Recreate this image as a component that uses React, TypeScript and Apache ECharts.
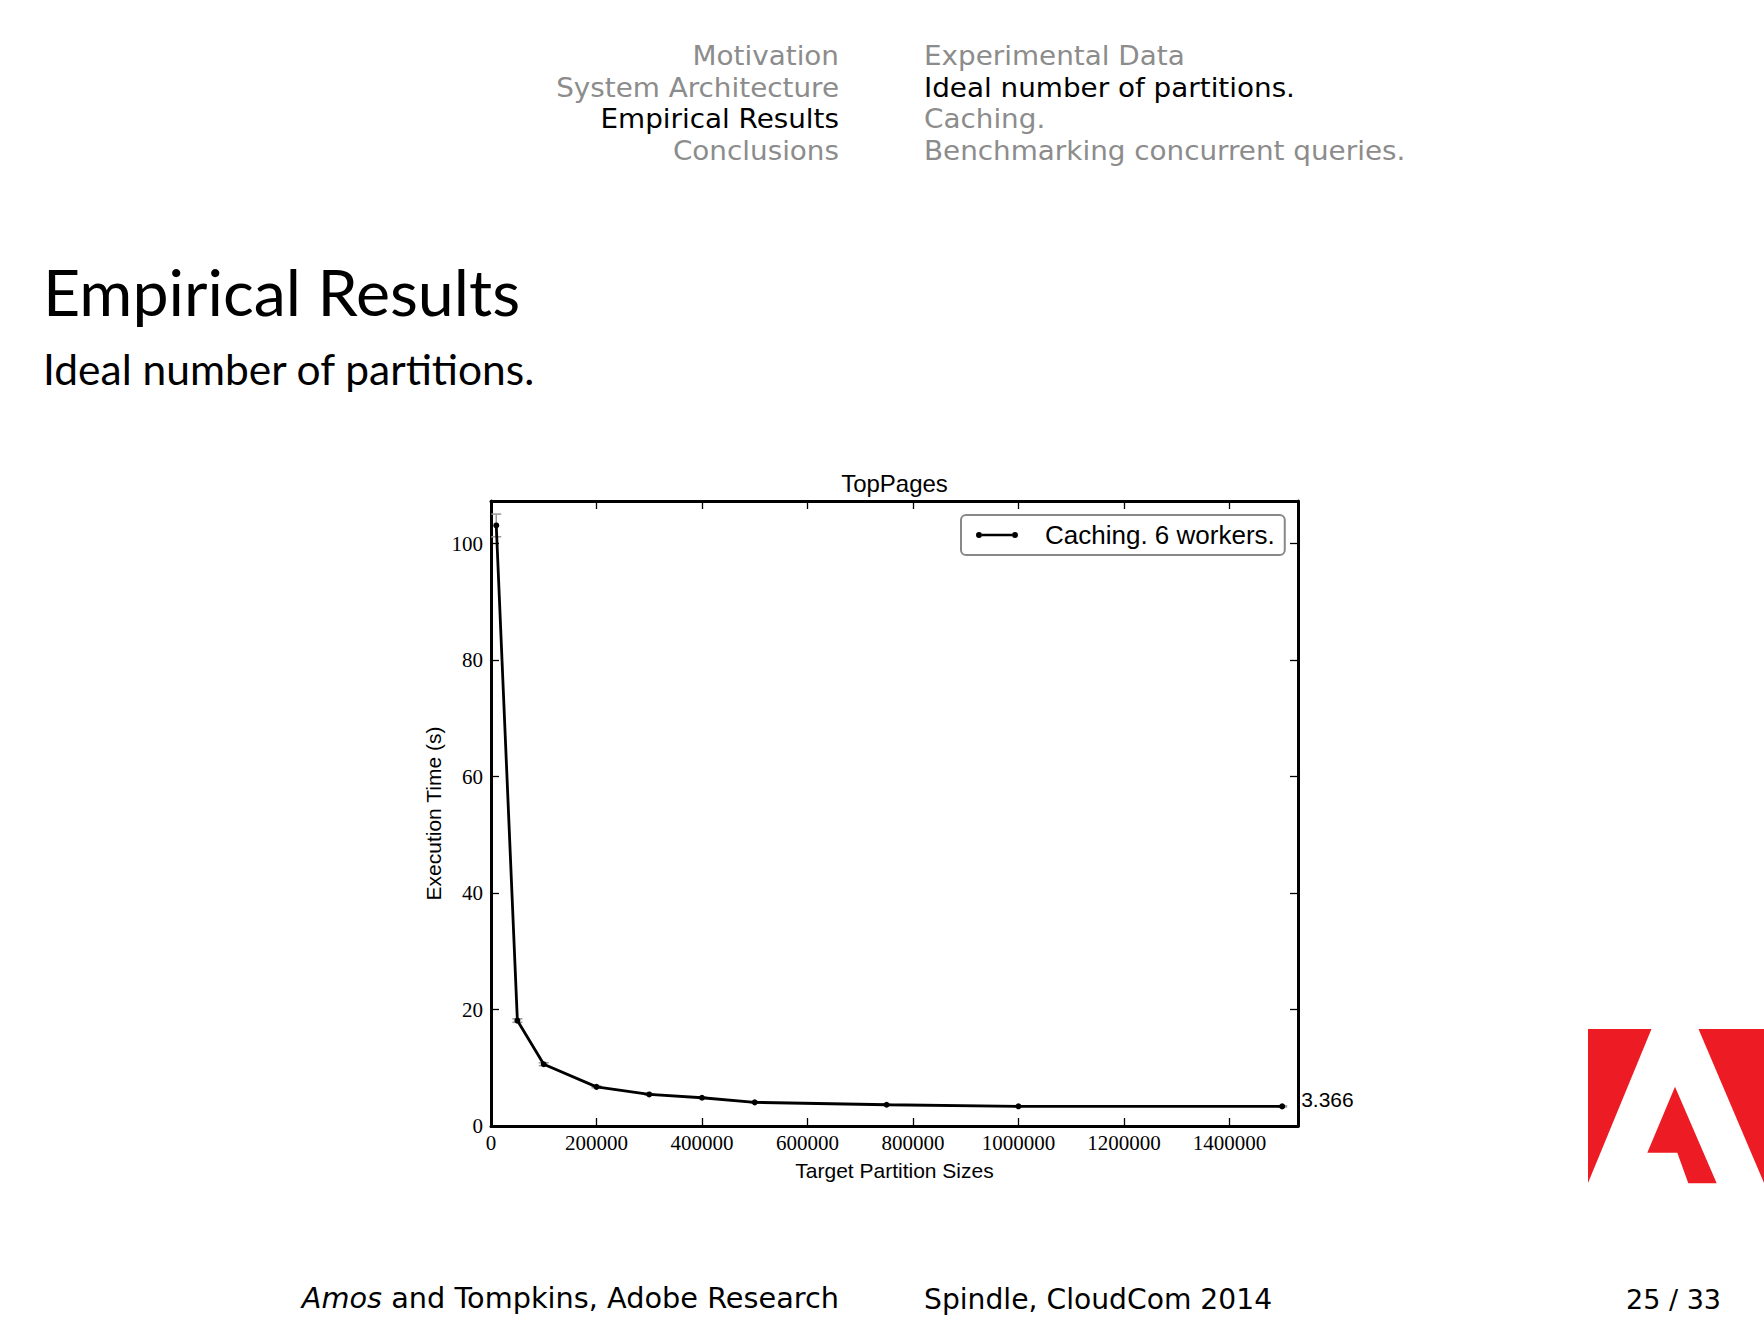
import React, { useEffect, useRef } from "react";
import * as echarts from "echarts";

// ---- data ----
const partitionSizes = [10000, 50000, 100000, 200000, 300000, 400000, 500000, 750000, 1000000, 1500000];
const execTimes = [103.1, 18.1, 10.6, 6.72, 5.42, 4.85, 4.06, 3.65, 3.38, 3.366];
const execErrors = [1.95, 0.3, 0.25, 0.15, 0.12, 0.1, 0.1, 0.08, 0.08, 0.1];
const seriesName = "Caching. 6 workers.";
const chartTitle = "TopPages";
const xAxisName = "Target Partition Sizes";
const yAxisName = "Execution Time (s)";

const navSections = ["Motivation", "System Architecture", "Empirical Results", "Conclusions"];
const navSubsections = ["Experimental Data", "Ideal number of partitions.", "Caching.", "Benchmarking concurrent queries."];
const activeSection = 2;
const activeSubsection = 1;
const slideTitle = "Empirical Results";
const slideSubtitle = "Ideal number of partitions.";
const footerAuthors = "{it|Amos} and Tompkins, Adobe Research";
const footerTalk = "Spindle, CloudCom 2014";
const footerPage = "25 / 33";

const SANS = "Liberation Sans";
const SERIF = "Liberation Serif";
const SLIDE = "Lato";
const SMALL = "DejaVu Sans";

export default function App() {
  const ref = useRef<HTMLDivElement>(null);
  useEffect(() => {
    document.body.style.margin = "0";
    const chart = echarts.init(ref.current!, null, { renderer: "svg" });
    const gray = "#8c8c8c";
    const navRows = [56, 87.5, 119, 150.5];
    const navSize = 26.5;
    const navScale = 1.05;
    const footSize = 28.2;
    const footY = 1299;
    const graphics: any[] = [];
    navSections.forEach((s, i) => {
      graphics.push({
        type: "text", x: 839, y: navRows[i], scaleX: navScale,
        style: {
          text: s, x: 0, y: 0, fill: i === activeSection ? "#000" : gray,
          fontFamily: SMALL, fontSize: navSize, align: "right", verticalAlign: "middle",
          textAlign: "right", textVerticalAlign: "middle",
        },
      });
    });
    navSubsections.forEach((s, i) => {
      graphics.push({
        type: "text", x: 924, y: navRows[i], scaleX: navScale,
        style: {
          text: s, x: 0, y: 0, fill: i === activeSubsection ? "#000" : gray,
          fontFamily: SMALL, fontSize: navSize, align: "left", verticalAlign: "middle",
          textAlign: "left", textVerticalAlign: "middle",
        },
      });
    });
    graphics.push({
      type: "text",
      style: { text: slideTitle, x: 43, y: 291, fill: "#000", fontFamily: SLIDE, fontSize: 64.5,
        align: "left", verticalAlign: "middle", textAlign: "left", textVerticalAlign: "middle" },
    });
    graphics.push({
      type: "text",
      style: { text: slideSubtitle, x: 43, y: 368, fill: "#000", fontFamily: SLIDE, fontSize: 42.5,
        align: "left", verticalAlign: "middle", textAlign: "left", textVerticalAlign: "middle" },
    });
    graphics.push({
      type: "text", x: 839, y: footY, scaleX: 1.02,
      style: { text: footerAuthors, x: 0, y: 0, fill: "#000", fontFamily: SMALL, fontSize: footSize,
        align: "right", verticalAlign: "middle", textAlign: "right", textVerticalAlign: "middle",
        rich: { it: { fontStyle: "italic", fontFamily: SMALL, fontSize: footSize, fill: "#000" } } },
    });
    graphics.push({
      type: "text",
      style: { text: footerTalk, x: 924, y: footY, fill: "#000", fontFamily: SMALL, fontSize: footSize,
        align: "left", verticalAlign: "middle", textAlign: "left", textVerticalAlign: "middle" },
    });
    graphics.push({
      type: "text",
      style: { text: footerPage, x: 1721, y: footY, fill: "#000", fontFamily: SMALL, fontSize: 27,
        align: "right", verticalAlign: "middle", textAlign: "right", textVerticalAlign: "middle" },
    });
    // Adobe logo
    const red = "#ED1C24";
    graphics.push({ type: "polygon", shape: { points: [[1588, 1029], [1651.5, 1029], [1588, 1183]] }, style: { fill: red } });
    graphics.push({ type: "polygon", shape: { points: [[1698.5, 1029], [1764, 1029], [1764, 1183]] }, style: { fill: red } });
    graphics.push({
      type: "polygon",
      shape: { points: [[1675, 1086.7], [1716.7, 1183.3], [1688.3, 1183.3], [1677.3, 1152.7], [1647.3, 1152.7]] },
      style: { fill: red },
    });

    const xMin = 0, xMax = 1530000, yMin = 0, yMax = 107.3;
    const axisLine = { show: true, onZero: false, lineStyle: { color: "#000", width: 3 } };
    const axisTick = { show: true, inside: true, length: 8, lineStyle: { color: "#000", width: 1.3 } };
    const lastIdx = partitionSizes.length - 1;

    chart.setOption({
      animation: false,
      backgroundColor: "#fff",
      title: {
        text: chartTitle, left: 894.5, top: 471, textAlign: "center", padding: 0,
        textStyle: { fontFamily: SANS, fontSize: 24, fontWeight: "normal", color: "#000" },
      },
      legend: {
        data: [seriesName], left: 961, top: 515, padding: [7, 10, 7, 15],
        borderColor: "#888", borderWidth: 2, borderRadius: 5, backgroundColor: "#fff",
        icon: "path://M6,2.8 L36,2.8 L36,5.2 L6,5.2 Z M0,4 A3,3 0 1,1 6,4 A3,3 0 1,1 0,4 Z M36,4 A3,3 0 1,1 42,4 A3,3 0 1,1 36,4 Z",
        itemWidth: 42, itemHeight: 6,
        itemStyle: { color: "#000", borderWidth: 0 },
        textStyle: { fontFamily: SANS, fontSize: 26, color: "#000", padding: [0, 0, 4, 22] },
        selectedMode: false,
      },
      grid: { left: 491, top: 501, width: 807, height: 625, show: false },
      xAxis: [
        {
          type: "value", position: "bottom", min: xMin, max: xMax, interval: 200000,
          axisLine, axisTick, splitLine: { show: false },
          axisLabel: {
            fontFamily: SERIF, fontSize: 21, color: "#000", margin: 6,
            formatter: (v: number) => (v % 200000 === 0 ? String(v) : ""),
          },
          name: xAxisName, nameLocation: "middle", nameGap: 34,
          nameTextStyle: { fontFamily: SANS, fontSize: 21, color: "#000" },
        },
        {
          type: "value", position: "top", min: xMin, max: xMax, interval: 200000,
          axisLine, axisTick, splitLine: { show: false }, axisLabel: { show: false },
        },
      ],
      yAxis: [
        {
          type: "value", position: "left", min: yMin, max: yMax, interval: 20,
          axisLine, axisTick, splitLine: { show: false },
          axisLabel: {
            fontFamily: SERIF, fontSize: 21, color: "#000", margin: 8,
            formatter: (v: number) => (v % 20 === 0 ? String(v) : ""),
          },
          name: yAxisName, nameLocation: "middle", nameGap: 47,
          nameTextStyle: { fontFamily: SANS, fontSize: 21, color: "#000" },
        },
        {
          type: "value", position: "right", min: yMin, max: yMax, interval: 20,
          axisLine, axisTick, splitLine: { show: false }, axisLabel: { show: false },
        },
      ],
      series: [
        {
          type: "custom",
          name: "errors",
          xAxisIndex: 0, yAxisIndex: 0,
          z: 1,
          renderItem: (params: any, api: any) => {
            const x = api.value(0);
            const lo = api.coord([x, api.value(1)]);
            const hi = api.coord([x, api.value(2)]);
            const w = 5;
            const st = { stroke: "#999", lineWidth: 1.5 };
            return {
              type: "group",
              children: [
                { type: "line", shape: { x1: lo[0], y1: lo[1], x2: hi[0], y2: hi[1] }, style: st },
                { type: "line", shape: { x1: lo[0] - w, y1: lo[1], x2: lo[0] + w, y2: lo[1] }, style: st },
                { type: "line", shape: { x1: hi[0] - w, y1: hi[1], x2: hi[0] + w, y2: hi[1] }, style: st },
              ],
            };
          },
          encode: { x: 0, y: [1, 2] },
          data: partitionSizes.map((x, i) => [x, execTimes[i] - execErrors[i], execTimes[i] + execErrors[i]]),
        },
        {
          type: "line",
          name: seriesName,
          xAxisIndex: 0, yAxisIndex: 0,
          z: 3,
          symbol: "circle",
          symbolSize: 6,
          lineStyle: { color: "#000", width: 2.8 },
          itemStyle: { color: "#000" },
          data: partitionSizes.map((x, i) =>
            i === lastIdx
              ? {
                  value: [x, execTimes[i]],
                  label: {
                    show: true, position: "right", distance: 16, offset: [0, -7],
                    formatter: String(execTimes[i]),
                    fontFamily: SANS, fontSize: 21, color: "#000",
                  },
                }
              : [x, execTimes[i]]
          ),
        },
      ],
      graphic: graphics,
    });
    return () => chart.dispose();
  }, []);
  return <div ref={ref} style={{ position: "absolute", left: 0, top: 0, width: 1764, height: 1323 }} />;
}
